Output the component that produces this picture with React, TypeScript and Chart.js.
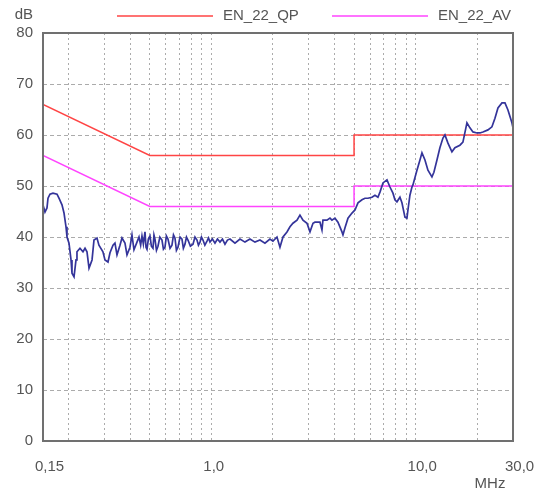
import React, { useEffect, useRef } from "react";
import { Chart, registerables } from "chart.js";

Chart.register(...registerables);

// ---- data ----
const traceFreqs = [
  0.15, 0.1534, 0.1569, 0.1587, 0.1623, 0.1679, 0.1757, 0.1796, 0.1858, 0.1901,
  0.1944, 0.1966, 0.2011, 0.2057, 0.208, 0.2128, 0.2176, 0.22, 0.2276, 0.2354,
  0.2409, 0.2463, 0.252, 0.2607, 0.2665, 0.2757, 0.2818, 0.2948, 0.3017, 0.3121,
  0.3192, 0.3302, 0.3376, 0.3454, 0.3573, 0.3654, 0.3779, 0.3866, 0.3999, 0.409,
  0.4183, 0.4327, 0.4426,
  0.451, 0.4578, 0.465, 0.4736, 0.479, 0.4844, 0.492, 0.501, 0.509, 0.5183,
  0.524, 0.53, 0.539, 0.5483, 0.56, 0.5736, 0.583, 0.5933, 0.603, 0.6137,
  0.628, 0.642, 0.653, 0.664, 0.675, 0.6869, 0.703, 0.7185, 0.73, 0.7433,
  0.756, 0.7688, 0.79, 0.8136, 0.832, 0.8511, 0.865, 0.8804, 0.895, 0.9107,
  0.93, 0.9527, 0.969, 0.9855, 1.013, 1.0425, 1.072, 1.103, 1.134, 1.1669,
  1.2, 1.2345,
  1.3061, 1.3819, 1.4618, 1.5466, 1.636, 1.731, 1.831, 1.937, 2.004, 2.097,
  2.169, 2.244, 2.347, 2.428, 2.511, 2.628, 2.717, 2.811, 2.941, 3.042,
  3.147, 3.218, 3.329, 3.405, 3.482, 3.521, 3.684, 3.811,
  3.897, 4.031, 4.17, 4.363, 4.413, 4.514, 4.669, 4.884, 5.052, 5.226,
  5.466, 5.655, 5.849, 6.119, 6.329, 6.545, 6.696, 6.927, 7.246, 7.494,
  7.752, 7.926, 8.108, 8.387, 8.579, 8.874, 9.077, 9.18, 9.387, 9.602, 9.71,
  10.16, 10.51, 10.75, 11.12, 11.5, 12.03, 12.3, 12.73, 13.16, 13.62,
  13.93, 14.41, 15.07, 15.59, 16.49, 17.06, 17.85, 18.46, 19.1, 19.98,
  20.66, 21.38, 22.62, 23.66, 24.48, 25.32, 26.49, 27.4, 28.34, 29.64, 30.0,
];
const traceLevels = [
  46.3, 44.9, 45.7, 47.6, 48.4, 48.6, 48.4, 47.6, 46.3, 44.7,
  42.0, 40.0, 38.8, 35.5, 32.9, 32.2, 35.5, 37.1, 37.8, 37.1,
  37.8, 37.1, 33.9, 35.5, 39.4, 39.8, 38.4, 37.1, 35.5, 35.1,
  36.9, 38.4, 38.8, 36.5, 38.4, 39.8, 38.8, 36.5, 38.0, 40.4,
  37.5, 39.0, 40.0,
  38.4, 40.2, 38.6, 41.0, 38.0, 37.6, 39.6, 40.2, 38.2, 37.8,
  40.4, 39.6, 37.4, 38.2, 40.0, 39.4, 37.6, 38.0, 40.2, 39.6,
  37.8, 38.4, 40.4, 39.8, 37.4, 38.0, 40.0, 39.6, 37.8, 38.6,
  40.0, 39.4, 38.2, 38.6, 40.0, 39.4, 38.4, 39.0, 40.0, 39.4,
  38.4, 39.2, 39.8, 39.0, 39.6, 38.8, 39.6, 39.0, 39.6, 38.6,
  39.4, 39.6,
  38.8, 39.6, 39.0, 39.6, 39.0, 39.4, 38.8, 39.6, 39.2, 40.0,
  38.0, 40.0, 41.0, 42.0, 42.7, 43.3, 44.3, 43.3, 42.7, 41.0,
  42.7, 42.9, 42.9, 42.9, 41.4, 43.3, 43.3, 43.7,
  43.3, 43.7, 42.9, 41.0, 40.4, 41.8, 43.7, 44.7, 45.3, 46.7,
  47.3, 47.6, 47.6, 47.8, 48.2, 47.8, 48.8, 50.6, 51.2, 49.8,
  48.6, 47.3, 46.9, 47.8, 46.7, 43.9, 43.7, 45.3, 48.2, 49.8, 50.2,
  53.1, 55.1, 56.5, 55.1, 53.1, 51.8, 52.7, 55.1, 57.5, 59.4,
  60.0, 58.4, 56.7, 57.5, 58.0, 58.6, 62.4, 61.4, 60.6, 60.4,
  60.4, 60.6, 61.0, 61.6, 63.3, 65.3, 66.3, 66.3, 64.9, 62.4, 61.4,
];

const qpFreqs = [0.15, 0.5, 5, 5, 30];
const qpLevels = [66, 56, 56, 60, 60];
const avFreqs = [0.15, 0.5, 5, 5, 30];
const avLevels = [56, 46, 46, 50, 50];

const seriesNames = ["Messung", "EN_22_QP", "EN_22_AV"];

const gridFreqs = [
  0.15, 0.2, 0.3, 0.4, 0.5, 0.6, 0.7, 0.8, 0.9, 1, 2, 3, 4, 5, 6, 7, 8, 9, 10, 20, 30,
];
const xLabelFreqs = [0.15, 1, 10, 30];
const xTickLabels = ["0,15", "1,0", "10,0", "30,0"];
const yMin = 0;
const yMax = 80;
const yStep = 10;
const yUnit = "dB";
const xUnit = "MHz";

// ---- styles ----
const TEXT = "#555555";
const FRAME = "#707070";
const GRID = "#ababab";
const FONT = "'Liberation Sans', Arial, sans-serif";

const pts = (xs: number[], ys: number[]) => xs.map((x, i) => ({ x, y: ys[i] }));

export default function App() {
  const ref = useRef<HTMLCanvasElement | null>(null);

  useEffect(() => {
    if (!ref.current) return;

    const overlay = {
      id: "overlay",
      afterDraw(chart: any) {
        const { ctx, chartArea: a } = chart;
        ctx.save();
        ctx.strokeStyle = FRAME;
        ctx.lineWidth = 2;
        ctx.strokeRect(a.left, a.top, a.right - a.left, a.bottom - a.top);

        ctx.font = `15px ${FONT}`;
        ctx.fillStyle = TEXT;
        ctx.textBaseline = "middle";
        ctx.textAlign = "right";
        ctx.fillText(yUnit, a.left - 10, a.top - 18);
        ctx.textAlign = "center";
        ctx.fillText(xUnit, a.right - 23, a.bottom + 43);

        const items = [
          { ds: 1, x: a.left + 74 },
          { ds: 2, x: a.left + 289 },
        ];
        ctx.textAlign = "left";
        for (const it of items) {
          const d = chart.data.datasets[it.ds];
          ctx.strokeStyle = d.borderColor;
          ctx.lineWidth = 1.6;
          ctx.beginPath();
          ctx.moveTo(it.x, 16);
          ctx.lineTo(it.x + 96, 16);
          ctx.stroke();
          ctx.fillStyle = TEXT;
          ctx.fillText(d.label, it.x + 106, 16);
        }
        ctx.restore();
      },
    };

    const chart = new Chart(ref.current, {
      type: "line",
      data: {
        datasets: [
          {
            label: seriesNames[0],
            data: pts(traceFreqs, traceLevels),
            borderColor: "#34349a",
            borderWidth: 1.7,
            pointRadius: 0,
            tension: 0,
          },
          {
            label: seriesNames[1],
            data: pts(qpFreqs, qpLevels),
            borderColor: "#ff4444",
            borderWidth: 1.5,
            pointRadius: 0,
            tension: 0,
          },
          {
            label: seriesNames[2],
            data: pts(avFreqs, avLevels),
            borderColor: "#ff44ff",
            borderWidth: 1.5,
            pointRadius: 0,
            tension: 0,
          },
        ],
      },
      options: {
        responsive: false,
        animation: false,
        layout: { padding: { left: 0, right: 26, top: 33, bottom: 0 } },
        plugins: {
          legend: { display: false },
          tooltip: { enabled: false },
        },
        scales: {
          x: {
            type: "logarithmic",
            min: 0.15,
            max: 30,
            afterBuildTicks: (scale: any) => {
              scale.ticks = gridFreqs.map((v) => ({ value: v }));
            },
            afterFit: (scale: any) => {
              scale.height = 53;
              scale.paddingLeft = 0;
              scale.paddingRight = 0;
            },
            ticks: {
              autoSkip: false,
              maxRotation: 0,
              minRotation: 0,
              align: "start",
              labelOffset: -8,
              padding: 17,
              color: TEXT,
              font: { family: FONT, size: 15 },
              callback: (value: any) => {
                const i = xLabelFreqs.indexOf(Number(value));
                return i >= 0 ? xTickLabels[i] : "";
              },
            },
            grid: {
              drawTicks: false,
              color: (c: any) => {
                const v = c.tick ? c.tick.value : null;
                return v === 0.15 || v === 30 ? "rgba(0,0,0,0)" : GRID;
              },
              lineWidth: 1,
            },
            border: { display: false, dash: [2, 3] },
          },
          y: {
            type: "linear",
            min: yMin,
            max: yMax,
            afterFit: (scale: any) => {
              scale.width = 43;
              scale.paddingTop = 0;
              scale.paddingBottom = 0;
            },
            ticks: {
              stepSize: yStep,
              padding: 10,
              color: TEXT,
              font: { family: FONT, size: 15 },
            },
            grid: {
              drawTicks: false,
              color: (c: any) => {
                const v = c.tick ? c.tick.value : null;
                return v === yMin || v === yMax ? "rgba(0,0,0,0)" : GRID;
              },
              lineWidth: 1,
            },
            border: { display: false, dash: [4, 3] },
          },
        },
      },
      plugins: [overlay],
    } as any);

    return () => chart.destroy();
  }, []);

  return (
    <div style={{ position: "fixed", left: 0, top: 0, width: 539, height: 494, background: "#fff" }}>
      <canvas ref={ref} width={539} height={494} style={{ display: "block" }} />
    </div>
  );
}
